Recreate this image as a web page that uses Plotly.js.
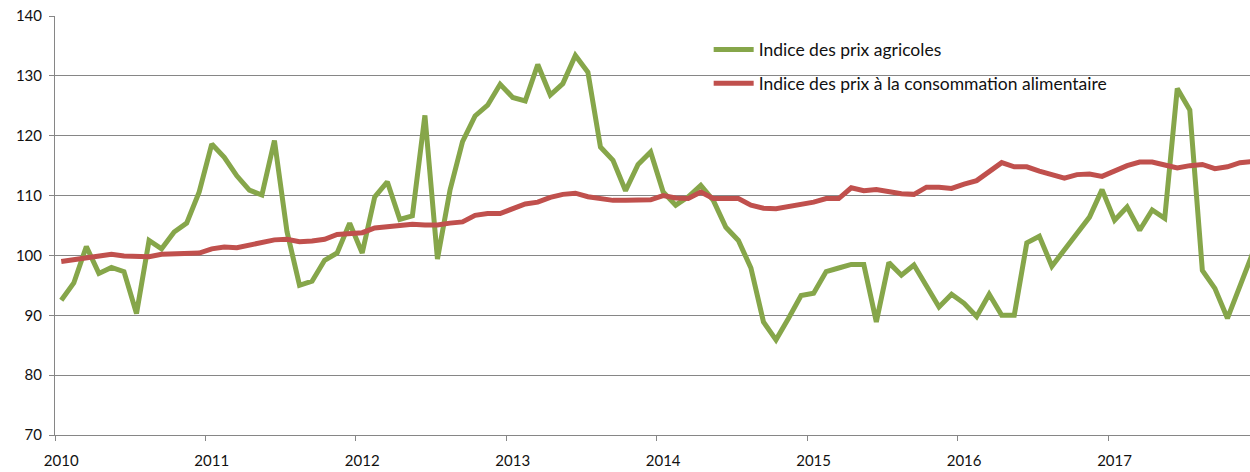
<!DOCTYPE html>
<html>
<head>
<meta charset="utf-8">
<script src="https://cdn.plot.ly/plotly-3.0.1.min.js"></script>
<style>html,body{margin:0;padding:0;background:#fff;}#chart{width:1250px;height:472px;}</style>
</head>
<body>
<div id="chart"></div>
<script>
// Monthly data, January 2010 to December 2017 (month index 0..95)
const yearLabels = ["2010","2011","2012","2013","2014","2015","2016","2017"];

const prixAgricoles = [
  92.5, 95.4, 101.5, 97.0, 98.0, 97.3, 90.3, 102.5, 101.1, 103.9, 105.4, 110.6,
  118.6, 116.4, 113.3, 110.9, 110.1, 119.2, 104.0, 95.0, 95.7, 99.2, 100.4, 105.4,
  100.4, 109.8, 112.3, 106.0, 106.6, 123.4, 99.4, 110.9, 119.0, 123.3, 125.1, 128.6,
  126.4, 125.8, 131.9, 126.8, 128.7, 133.4, 130.6, 118.1, 115.9, 110.8, 115.2, 117.3,
  110.6, 108.4, 109.8, 111.7, 109.2, 104.7, 102.5, 97.9, 88.9, 85.9, 89.5, 93.3,
  93.7, 97.3, 97.9, 98.5, 98.5, 88.9, 98.8, 96.7, 98.4, 94.8, 91.4, 93.5,
  92.0, 89.8, 93.5, 90.0, 90.0, 102.1, 103.2, 98.2, 100.9, 103.5, 106.4, 111.0,
  105.9, 108.1, 104.2, 107.6, 106.2, 127.9, 124.3, 97.5, 94.5, 89.5, 94.8, 100.3
];

const prixConsoAlim = [
  99.0, 99.3, 99.8, 99.9, 100.2, 99.9, 99.8, 99.8, 100.2, 100.2, 100.3, 100.4,
  101.1, 101.4, 101.3, 101.8, 102.3, 102.6, 102.7, 102.3, 102.4, 102.7, 103.5, 103.6,
  103.8, 104.6, 104.8, 104.9, 105.2, 105.1, 105.1, 105.4, 105.6, 106.7, 107.0, 107.0,
  107.8, 108.6, 108.9, 109.7, 110.2, 110.4, 109.8, 109.4, 109.2, 109.2, 109.2, 109.3,
  110.0, 109.6, 109.5, 110.6, 109.5, 109.5, 109.5, 108.4, 107.9, 107.8, 108.1, 108.4,
  108.9, 109.5, 109.5, 111.3, 110.8, 111.0, 110.6, 110.3, 110.2, 111.4, 111.4, 111.2,
  111.9, 112.5, 114.0, 115.5, 114.8, 114.8, 114.1, 113.6, 112.9, 113.5, 113.6, 113.2,
  114.1, 115.0, 115.6, 115.6, 115.1, 114.6, 115.0, 115.2, 114.5, 114.8, 115.5, 115.7
];

const months = prixAgricoles.map((_, i) => i);
const yearTickVals = yearLabels.map((_, k) => 12 * k);
const yearBoundaries = yearLabels.map((_, k) => 12 * k - 0.5).concat([95.5]);

const traces = [
  {
    x: months, y: prixAgricoles, type: "scatter", mode: "lines",
    name: "Indice des prix agricoles",
    line: {color: "#86A64A", width: 5, shape: "linear"},
    legendgroup: "a"
  },
  {
    x: months, y: prixConsoAlim, type: "scatter", mode: "lines",
    name: "Indice des prix à la consommation alimentaire",
    line: {color: "#C0504D", width: 5, shape: "linear"},
    legendgroup: "b"
  }
];

const layout = {
  width: 1250, height: 472,
  margin: {l: 55, r: 0, t: 16, b: 37},
  paper_bgcolor: "#fff", plot_bgcolor: "#fff",
  font: {family: "Lato, 'Open Sans', sans-serif", size: 15, color: "#111"},
  showlegend: true,
  legend: {
    x: 0.547, y: 0.963, xanchor: "left", yanchor: "top",
    bgcolor: "rgba(0,0,0,0)", borderwidth: 0,
    font: {family: "Lato, 'Open Sans', sans-serif", size: 17.5, color: "#111"},
    itemwidth: 40, traceorder: "grouped", tracegroupgap: 8
  },
  xaxis: {
    range: [-0.5, 94.8],
    tickmode: "array", tickvals: yearTickVals, ticktext: yearLabels,
    ticks: "", showgrid: false, zeroline: false,
    showline: true, linecolor: "#868686", linewidth: 1,
    ticklabelstandoff: 12,
    tickfont: {size: 15, color: "#111"},
    minor: {tickmode: "array", tickvals: yearBoundaries, ticks: "outside", ticklen: 5, tickcolor: "#868686", showgrid: false}
  },
  yaxis: {
    range: [70, 140], dtick: 10, tick0: 70,
    showgrid: true, gridcolor: "#868686", gridwidth: 1,
    zeroline: false, showline: true, linecolor: "#868686", linewidth: 1,
    ticks: "outside", ticklen: 5, tickcolor: "#868686",
    ticklabelstandoff: 4,
    tickfont: {size: 15, color: "#111"}
  }
};

Plotly.newPlot("chart", traces, layout, {displayModeBar: false, staticPlot: true});
</script>
</body>
</html>
